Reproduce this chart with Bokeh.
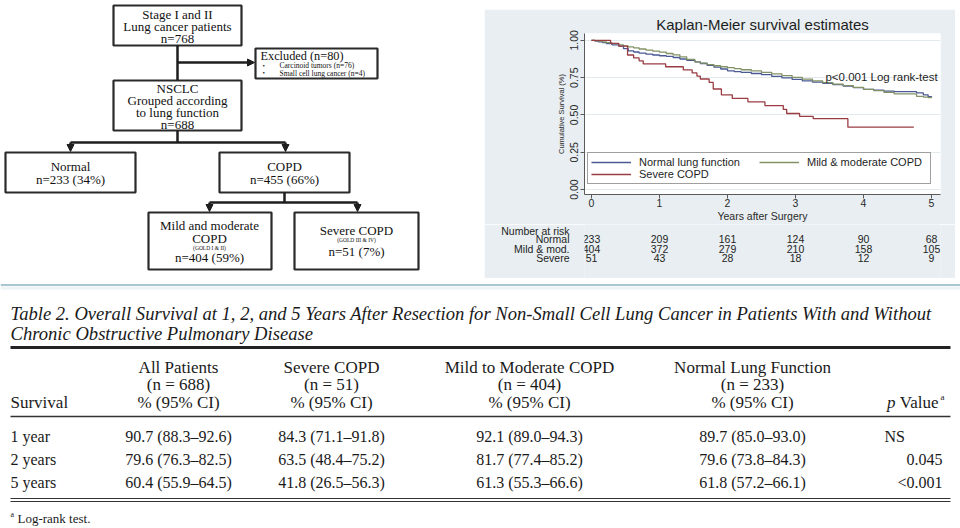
import numpy as np
from bokeh.plotting import figure
from bokeh.models import (Range1d, FixedTicker, Legend, LegendItem, Arrow, NormalHead, Spacer, Title)
from bokeh.layouts import row, column
from bokeh.core.properties import value
from bokeh.embed import file_html
from bokeh.resources import INLINE

# ---------------- data ----------------
stage_total = 768
excluded_carcinoid = 76
excluded_sclc = 4
nsclc_total = 688
normal_n = 233
mild_n = 404
severe_n = 51

km_t = [0, 0.05, 0.1, 0.16, 0.22, 0.3, 0.4, 0.47, 0.54, 0.62,
        0.7, 0.8, 0.9, 1.0, 1.1, 1.2, 1.3, 1.4, 1.52, 1.6,
        1.7, 1.8, 1.9, 2.0, 2.1, 2.2, 2.35, 2.5, 2.65, 2.8,
        2.95, 3.1, 3.25, 3.4, 3.55, 3.7, 3.85, 4.0, 4.15, 4.3,
        4.45, 4.78, 4.88, 4.95, 5.0]
km_normal = [1, 0.995, 0.99, 0.985, 0.978, 0.97, 0.962, 0.945, 0.929, 0.922,
             0.915, 0.908, 0.902, 0.897, 0.893, 0.885, 0.875, 0.866, 0.856, 0.845,
             0.832, 0.82, 0.808, 0.796, 0.79, 0.785, 0.778, 0.77, 0.758, 0.748,
             0.738, 0.728, 0.72, 0.712, 0.703, 0.694, 0.683, 0.672, 0.666, 0.66,
             0.656, 0.648, 0.635, 0.622, 0.618]
km_mild = [1, 0.998, 0.995, 0.99, 0.985, 0.978, 0.97, 0.963, 0.956, 0.95,
           0.942, 0.935, 0.928, 0.921, 0.912, 0.903, 0.89, 0.872, 0.856, 0.848,
           0.838, 0.83, 0.823, 0.817, 0.81, 0.803, 0.795, 0.785, 0.776, 0.764,
           0.752, 0.74, 0.728, 0.717, 0.707, 0.697, 0.685, 0.672, 0.663, 0.652,
           0.642, 0.625, 0.62, 0.616, 0.613]
km_severe_t = [0, 0.28, 0.40, 0.53, 0.62, 0.70, 0.76, 1.09, 1.35, 1.48, 1.55, 1.60,
               1.73, 1.79, 1.91, 2.07, 2.30, 2.55, 2.82, 2.87, 3.06, 3.26, 3.77, 4.74]
km_severe = [1.0, 0.980, 0.961, 0.902, 0.882, 0.863, 0.843, 0.823, 0.802, 0.782, 0.761, 0.741,
             0.718, 0.674, 0.635, 0.611, 0.588, 0.563, 0.537, 0.510, 0.490, 0.475, 0.418, 0.418]

risk_years = [0, 1, 2, 3, 4, 5]
risk_normal = [233, 209, 161, 124, 90, 68]
risk_mild = [404, 372, 279, 210, 158, 105]
risk_severe = [51, 43, 28, 18, 12, 9]
risk_groups = ["Normal", "Mild & mod.", "Severe"]

tbl_rows = ["1 year", "2 years", "5 years"]
tbl_groups = ["All Patients", "Severe COPD", "Mild to Moderate COPD", "Normal Lung Function"]
tbl_group_n = [688, 51, 404, 233]
all_est = [90.7, 79.6, 60.4]; all_lo = [88.3, 76.3, 55.9]; all_hi = [92.6, 82.5, 64.5]
sev_est = [84.3, 63.5, 41.8]; sev_lo = [71.1, 48.4, 26.5]; sev_hi = [91.8, 75.2, 56.3]
mild_est = [92.1, 81.7, 61.3]; mild_lo = [89.0, 77.4, 55.3]; mild_hi = [94.3, 85.2, 66.6]
norm_est = [89.7, 79.6, 61.8]; norm_lo = [85.0, 73.8, 57.2]; norm_hi = [93.0, 84.3, 66.1]
p_values = ["NS", "0.045", "<0.001"]

SERIF = "Liberation Serif"
SANS = "Liberation Sans"
INK = "#1a1a1a"
PANEL = "#e8eef1"

# ---------------- flowchart ----------------
fl = figure(width=484, height=283, x_range=Range1d(0, 484), y_range=Range1d(283, 0),
            output_backend="svg", toolbar_location=None, min_border=0,
            x_axis_type=None, y_axis_type=None, outline_line_color=None)
fl.grid.visible = False

pct = lambda n: f"{round(100 * n / nsclc_total)}%"
boxes = {  # left, right, top, bottom (pixels)
    "stage": (113, 241, 5, 45),
    "excl": (255, 377, 48, 78),
    "nsclc": (113, 241, 80, 130),
    "normal": (5, 135, 152, 192),
    "copd": (219, 349, 152, 192),
    "mild": (148, 271, 212, 269),
    "severe": (294, 418, 212, 269),
}
fl.quad(left=[b[0] for b in boxes.values()], right=[b[1] for b in boxes.values()],
        top=[b[2] for b in boxes.values()], bottom=[b[3] for b in boxes.values()],
        fill_color="white", line_color="#2a2a2a", line_width=2.2)

big = []  # x, y, text
big += [(177, 14, "Stage I and II"), (177, 26, "Lung cancer patients"), (177, 38, f"n={stage_total}")]
big += [(177, 88, "NSCLC"), (177, 100, "Grouped according"), (177, 112, "to lung function"),
        (177, 124, f"n={nsclc_total}")]
big += [(70, 166, "Normal"), (70, 179, f"n={normal_n} ({pct(normal_n)})")]
big += [(284, 166, "COPD"), (284, 179, f"n={mild_n + severe_n} ({pct(mild_n + severe_n)})")]
big += [(209, 225, "Mild and moderate"), (209, 238, "COPD"), (209, 257, f"n={mild_n} ({pct(mild_n)})")]
big += [(356, 230, "Severe COPD"), (356, 251, f"n={severe_n} ({pct(severe_n)})")]
fl.text(x=[b[0] for b in big], y=[b[1] for b in big], text=[b[2] for b in big],
        text_font=value(SERIF), text_font_size="13px", text_align="center",
        text_baseline="middle", text_color="#111111")
small = [(209, 247, "(GOLD I & II)"), (356, 239.5, "(GOLD III & IV)")]
fl.text(x=[s[0] for s in small], y=[s[1] for s in small], text=[s[2] for s in small],
        text_font=value(SERIF), text_font_size="5.5px", text_align="center",
        text_baseline="middle", text_color="#111111")
fl.text(x=[260], y=[55], text=[f"Excluded (n={excluded_carcinoid + excluded_sclc})"],
        text_font=value(SERIF), text_font_size="12.3px", text_baseline="middle", text_color="#111111")
fl.text(x=[262, 262], y=[65, 72.5], text=["•", "•"], text_font=value(SERIF),
        text_font_size="7px", text_baseline="middle", text_color="#111111")
fl.text(x=[279, 279], y=[65, 72.5],
        text=[f"Carcinoid tumors (n={excluded_carcinoid})", f"Small cell lung cancer (n={excluded_sclc})"],
        text_font=value(SERIF), text_font_size="7.5px", text_baseline="middle", text_color="#111111")

seg = [(177, 45, 177, 80), (177, 130, 177, 142), (70, 142, 285, 142),
       (284, 192, 284, 202), (209, 202, 357, 202)]
fl.segment(x0=[s[0] for s in seg], y0=[s[1] for s in seg], x1=[s[2] for s in seg],
           y1=[s[3] for s in seg], line_color="#1e1e1e", line_width=2.5)
arrows = [(177, 62, 254, 62), (70, 142, 70, 151), (285, 142, 285, 151),
          (209, 202, 209, 211), (357, 202, 357, 211)]
for xs, ys, xe, ye in arrows:
    fl.add_layout(Arrow(end=NormalHead(size=7, fill_color="#1e1e1e", line_color="#1e1e1e"),
                        x_start=xs, y_start=ys, x_end=xe, y_end=ye,
                        line_color="#1e1e1e", line_width=2.5))

# ---------------- Kaplan-Meier ----------------
KM_W = 471
B_LEFT, B_RIGHT, B_TOP, B_BOTTOM = 100, 15, 24, 28
FRAME_H = 163
years_range = Range1d(-0.103, 5.132)
km = figure(width=KM_W, height=B_TOP + FRAME_H + B_BOTTOM,
            x_range=years_range, y_range=Range1d(-0.033, 1.046),
            output_backend="svg", toolbar_location=None,
            min_border_left=B_LEFT, min_border_right=B_RIGHT, min_border_top=B_TOP,
            min_border_bottom=B_BOTTOM,
            background_fill_color="white", border_fill_color=PANEL, outline_line_color=None)
km.title = Title(text="Kaplan-Meier survival estimates", align="center", text_font=SANS,
                 text_font_size="15px", text_font_style="normal", text_color="#1e1e1e",
                 standoff=2)
km.xgrid.visible = False
km.ygrid.ticker = FixedTicker(ticks=[0, 0.25, 0.5, 0.75, 1.0])
km.ygrid.grid_line_color = "#e2eaee"
km.ygrid.grid_line_width = 1.2

km.xaxis.ticker = FixedTicker(ticks=risk_years)
km.xaxis.axis_label = "Years after Surgery"
km.yaxis.ticker = FixedTicker(ticks=[0, 0.25, 0.5, 0.75, 1.0])
km.yaxis.major_label_overrides = {0: "0.00", 0.25: "0.25", 0.5: "0.50", 0.75: "0.75", 1: "1.00"}
km.yaxis.major_label_orientation = "vertical"
km.yaxis.axis_label = "Cumulative Survival (%)"
for ax in (km.xaxis, km.yaxis):
    ax.axis_line_color = "#5a5a5a"
    ax.major_tick_line_color = "#5a5a5a"
    ax.major_tick_in = 0
    ax.major_tick_out = 4
    ax.minor_tick_line_color = None
    ax.major_label_text_font = SANS
    ax.major_label_text_font_size = "10.5px"
    ax.major_label_text_color = "#2a2a2a"
    ax.axis_label_text_font = SANS
    ax.axis_label_text_font_style = "normal"
    ax.axis_label_text_color = "#2a2a2a"
    ax.major_label_standoff = 0
    ax.axis_label_standoff = 0
km.xaxis.axis_label_text_font_size = "10.5px"
km.yaxis.axis_label_text_font_size = "7.5px"
km.yaxis.major_label_standoff = 2
km.yaxis.axis_label_standoff = 2

r_norm = km.step(km_t, km_normal, mode="after", line_color="#4a5a94", line_width=1.3)
r_mild = km.step(km_t, km_mild, mode="after", line_color="#829266", line_width=1.3)
r_sev = km.step(km_severe_t, km_severe, mode="after", line_color="#9a3d43", line_width=1.3)

legend = Legend(items=[LegendItem(label="Normal lung function", renderers=[r_norm]),
                       LegendItem(label="Mild & moderate COPD", renderers=[r_mild]),
                       LegendItem(label="Severe COPD", renderers=[r_sev])],
                location=(3, 10), orientation="horizontal", ncols=2,
                glyph_width=40, glyph_height=12, label_standoff=8, spacing=0, padding=3, margin=0,
                label_width=120, label_height=12,
                label_text_font=SANS, label_text_font_size="11px", label_text_color="#1e1e1e",
                border_line_color="#404040", border_line_width=1, background_fill_alpha=1.0)
km.add_layout(legend)
km.text(x=[5.09], y=[0.755], text=["p<0.001 Log rank-test"], text_align="right",
        text_baseline="middle", text_font=value(SANS), text_font_size="11.5px", text_color="#1e1e1e")

# number-at-risk panel: shares the KM year scale; row names are its y-axis labels
RISK_TOP = 9 + B_TOP + FRAME_H + B_BOTTOM
RISK_BOTTOM = 278
rk = figure(width=KM_W, height=RISK_BOTTOM - RISK_TOP,
            x_range=years_range, y_range=Range1d(RISK_BOTTOM, RISK_TOP),
            output_backend="svg", toolbar_location=None,
            min_border_left=B_LEFT, min_border_right=B_RIGHT, min_border_top=0, min_border_bottom=0,
            x_axis_type=None, outline_line_color=None,
            background_fill_color=PANEL, border_fill_color=PANEL)
rk.grid.visible = False
head_y = RISK_TOP + 5.5
row_y = [RISK_TOP + 14.5, RISK_TOP + 24, RISK_TOP + 33.5]
rk.yaxis.ticker = FixedTicker(ticks=[head_y] + row_y)
rk.yaxis.major_label_overrides = dict(zip([head_y] + row_y, ["Number at risk"] + risk_groups))
rk.yaxis.axis_line_color = None
rk.yaxis.major_tick_line_color = None
rk.yaxis.minor_tick_line_color = None
rk.yaxis.major_tick_out = 0
rk.yaxis.major_tick_in = 0
rk.yaxis.major_label_standoff = 15
rk.yaxis.major_label_text_font = SANS
rk.yaxis.major_label_text_font_size = "10.5px"
rk.yaxis.major_label_text_color = "#1e1e1e"
rx, ry, rt = [], [], []
for yy, counts in zip(row_y, [risk_normal, risk_mild, risk_severe]):
    for yr, c in zip(risk_years, counts):
        rx.append(yr); ry.append(yy); rt.append(str(c))
rk.text(x=rx, y=ry, text=rt, text_align="center", text_baseline="middle",
        text_font=value(SANS), text_font_size="10.5px", text_color="#1e1e1e")

# ---------------- table ----------------
tb = figure(width=960, height=245, x_range=Range1d(0, 960), y_range=Range1d(528, 283),
            output_backend="svg", toolbar_location=None, min_border=0,
            x_axis_type=None, y_axis_type=None, outline_line_color=None)
tb.grid.visible = False
tb.segment(x0=[0], y0=[284.5], x1=[960], y1=[284.5], line_color="#a9c6d2", line_width=2)
tb.segment(x0=[0], y0=[287.5], x1=[960], y1=[287.5], line_color="#eef3f5", line_width=3)

title1 = ("Table 2.  Overall Survival at 1, 2, and 5 Years After Resection for Non-Small Cell Lung Cancer "
          "in Patients With and Without")
title2 = "Chronic Obstructive Pulmonary Disease"
tb.text(x=[10, 10], y=[313, 333], text=[title1, title2], text_font=value(SERIF),
        text_font_style="italic", text_font_size="18.6px", text_baseline="middle", text_color=INK)

tb.segment(x0=[10], y0=[347], x1=[950], y1=[347], line_color="#222222", line_width=3)
tb.segment(x0=[10], y0=[416], x1=[950], y1=[416], line_color="#333333", line_width=1.5)
tb.segment(x0=[10, 10], y0=[498, 501], x1=[950, 950], y1=[498, 501], line_color="#333333", line_width=1.2)

col_x = [178, 331, 529, 752]
hx, hy, ht = [], [], []
for cx, g, n in zip(col_x, tbl_groups, tbl_group_n):
    hx += [cx, cx, cx]
    hy += [367, 384, 402]
    ht += [g, f"(n = {n})", "% (95% CI)"]
tb.text(x=hx, y=hy, text=ht, text_font=value(SERIF), text_font_size="17px",
        text_align="center", text_baseline="middle", text_color=INK)
tb.text(x=[10], y=[402], text=["Survival"], text_font=value(SERIF), text_font_size="17px",
        text_baseline="middle", text_color=INK)
tb.text(x=[938], y=[402], text=["Value"], text_font=value(SERIF), text_font_size="17px",
        text_align="right", text_baseline="middle", text_color=INK)
tb.text(x=[895], y=[402], text=["p"], text_font=value(SERIF), text_font_size="17px",
        text_font_style="italic", text_align="right", text_baseline="middle", text_color=INK)
tb.text(x=[940], y=[396], text=["a"], text_font=value(SERIF), text_font_size="9px",
        text_baseline="middle", text_color=INK)

row_y_t = [436, 459, 482]
tb.text(x=[10] * 3, y=row_y_t, text=tbl_rows, text_font=value(SERIF), text_font_size="16px",
        text_baseline="middle", text_color=INK)
fmt = lambda e, l, h: f"{e:.1f} ({l:.1f}\u2013{h:.1f})"
groups_vals = [(all_est, all_lo, all_hi), (sev_est, sev_lo, sev_hi),
               (mild_est, mild_lo, mild_hi), (norm_est, norm_lo, norm_hi)]
cx_all, cy_all, ct_all = [], [], []
for cx, (e, l, h) in zip(col_x, groups_vals):
    for yy, a, b, c in zip(row_y_t, e, l, h):
        cx_all.append(cx); cy_all.append(yy); ct_all.append(fmt(a, b, c))
tb.text(x=cx_all, y=cy_all, text=ct_all, text_font=value(SERIF), text_font_size="16px",
        text_align="center", text_baseline="middle", text_color=INK)
tb.text(x=[884], y=[row_y_t[0]], text=[p_values[0]], text_font=value(SERIF), text_font_size="16px",
        text_baseline="middle", text_color=INK)
tb.text(x=[942, 942], y=row_y_t[1:], text=p_values[1:], text_font=value(SERIF), text_font_size="16px",
        text_align="right", text_baseline="middle", text_color=INK)
tb.text(x=[10], y=[514], text=["a"], text_font=value(SERIF), text_font_size="8px",
        text_baseline="middle", text_color=INK)
tb.text(x=[17], y=[518], text=["Log-rank test."], text_font=value(SERIF), text_font_size="13px",
        text_baseline="middle", text_color=INK)

km_col = column(Spacer(width=KM_W, height=9), km, rk)
top = row(fl, km_col, Spacer(width=5, height=283))
page = column(top, tb)
open("out.html", "w").write(file_html(page, INLINE))
